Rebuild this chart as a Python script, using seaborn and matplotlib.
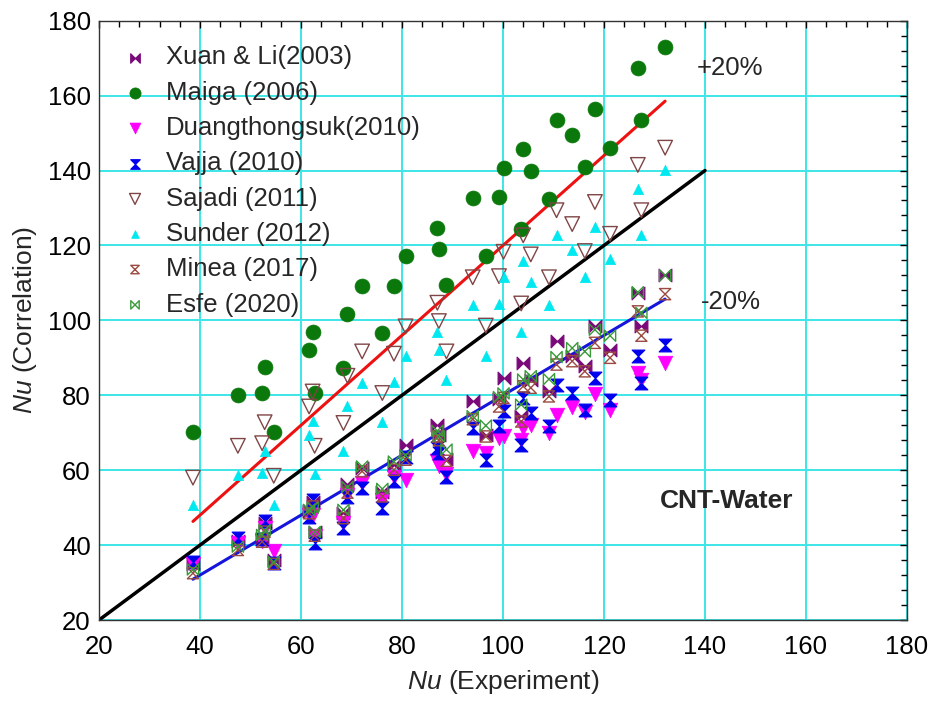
import numpy as np
import pandas as pd
import matplotlib
matplotlib.use("Agg")
import matplotlib.pyplot as plt
from matplotlib.path import Path
from matplotlib.ticker import MultipleLocator
import seaborn as sns

# ---------------- data ----------------
nu_exp = [38.6, 47.5, 52.3, 52.8, 54.6, 61.6, 62.3, 62.7, 68.4, 69.2, 72.1,
          76.1, 78.4, 80.7, 87.0, 87.3, 88.8, 94.0, 96.6, 99.2, 100.1, 103.6,
          104.0, 105.5, 109.1, 110.6, 113.7, 116.2, 118.2, 121.2, 126.7, 127.4, 132.1]

xuan = [35.0, 41.0, 41.5, 45.9, 36.0, 49.0, 51.6, 43.6, 48.5, 56.4, 60.6,
        54.3, 61.4, 66.6, 72.1, 69.5, 63.0, 78.4, 69.5, 79.0, 84.5, 74.4,
        88.6, 84.0, 81.1, 94.4, 90.5, 87.9, 98.4, 92.2, 107.2, 98.4, 112.0]
maiga = [70.3, 80.2, 80.6, 87.5, 70.3, 92.2, 96.9, 80.6, 87.3, 101.8, 109.1,
         96.5, 109.1, 117.3, 124.6, 119.1, 109.4, 132.6, 117.3, 132.9, 140.8, 124.5,
         145.7, 139.9, 132.5, 153.6, 149.5, 141.0, 156.4, 145.9, 167.3, 153.6, 172.9]
duang = [35.0, 40.5, 41.0, 44.5, 38.5, 48.1, 48.0, 42.3, 46.0, 53.5, 56.6,
         52.1, 58.3, 57.4, 62.5, 61.0, 59.0, 65.0, 64.5, 68.5, 69.0, 68.0,
         71.2, 72.1, 70.0, 74.8, 76.8, 75.5, 80.4, 76.0, 86.0, 84.0, 88.6]
vajja = [35.6, 41.8, 41.5, 46.3, 35.2, 47.5, 52.1, 40.5, 44.5, 52.9, 55.2,
         49.9, 57.0, 63.5, 66.0, 64.6, 58.3, 71.2, 62.8, 71.7, 75.7, 66.8,
         79.3, 75.3, 71.7, 82.8, 80.6, 76.1, 84.5, 78.8, 90.4, 83.3, 93.5]
sajadi = [58.0, 66.5, 67.2, 72.8, 58.5, 77.0, 81.0, 66.5, 72.6, 85.2, 91.7,
          80.6, 91.1, 98.4, 104.7, 99.8, 91.7, 111.5, 98.6, 111.8, 118.3, 104.5,
          122.7, 117.6, 111.5, 129.4, 125.7, 118.5, 131.6, 123.1, 141.5, 129.4, 146.1]
sunder = [50.7, 58.8, 59.2, 65.0, 50.7, 69.5, 73.0, 59.0, 65.0, 77.2, 83.3,
          72.8, 83.5, 90.4, 96.9, 92.2, 84.2, 104.2, 90.6, 104.5, 111.5, 96.8,
          115.8, 110.2, 104.0, 122.7, 118.9, 111.6, 125.0, 116.3, 135.2, 122.7, 140.1]
minea = [32.5, 38.7, 40.9, 43.6, 35.0, 48.5, 50.3, 42.5, 47.2, 54.0, 59.7,
         53.0, 60.1, 62.8, 69.0, 68.0, 62.5, 73.6, 69.0, 77.0, 79.3, 73.0,
         82.4, 82.0, 79.7, 88.2, 89.1, 86.4, 94.0, 90.0, 102.4, 95.9, 107.0]
esfe = [33.5, 39.6, 42.7, 44.0, 35.5, 49.4, 50.0, 43.5, 49.4, 55.5, 61.0,
        55.0, 62.3, 64.0, 70.5, 69.0, 65.5, 74.4, 71.9, 79.5, 80.5, 77.5,
        84.2, 85.1, 84.3, 90.2, 92.6, 91.7, 97.5, 95.9, 107.5, 102.0, 112.0]

labels = ["Xuan & Li(2003)", "Maiga (2006)", "Duangthongsuk(2010)", "Vajja (2010)",
          "Sajadi (2011)", "Sunder (2012)", "Minea (2017)", "Esfe (2020)"]
series = [xuan, maiga, duang, vajja, sajadi, sunder, minea, esfe]

ideal_x = [20, 140]
band_x = [38.6, 132.1]
band_factors = [1.2, 0.8]

# ---------------- style ----------------
sns.set_theme(style="white")
plt.rcParams["font.family"] = ["Liberation Sans", "DejaVu Sans"]
plt.rcParams["mathtext.fontset"] = "custom"
plt.rcParams["mathtext.it"] = "Liberation Sans:italic"
plt.rcParams["mathtext.rm"] = "Liberation Sans"

FS = 18.5

codes = [Path.MOVETO, Path.LINETO, Path.LINETO, Path.LINETO, Path.CLOSEPOLY]
bowtie = Path([(-1, 1), (-1, -1), (1, 1), (1, -1), (-1, 1)], codes)
hourglass = Path([(-1, 1), (1, 1), (-1, -1), (1, -1), (-1, 1)], codes)

styles = [
    dict(marker=bowtie, s=85, color="#7a0a7a", edgecolor="#7a0a7a", linewidth=0.8),
    dict(marker="o", s=115, color="#0a780a", edgecolor="#0a780a", linewidth=0.5),
    dict(marker="v", s=110, color="#ff00ff", edgecolor="#ff00ff", linewidth=0.5),
    dict(marker=hourglass, s=85, color="#0000ee", edgecolor="#0000ee", linewidth=0.8),
    dict(marker="v", s=110, facecolor="none", edgecolor="#804545", linewidth=1.0),
    dict(marker="^", s=55, color="#00e8f0", edgecolor="#00e8f0", linewidth=0.5),
    dict(marker=hourglass, s=65, facecolor="none", edgecolor="#9a4a40", linewidth=1.0),
    dict(marker=bowtie, s=65, facecolor="none", edgecolor="#3a9a3a", linewidth=1.0),
]

fig = plt.figure(figsize=(9.36, 7.02), dpi=100)
ax = fig.add_axes([0.1058, 0.1168, 0.8632, 0.8537])

for lab, vals, st in zip(labels, series, styles):
    df = pd.DataFrame({"exp": nu_exp, "corr": vals})
    sns.scatterplot(data=df, x="exp", y="corr", ax=ax, label=lab, zorder=3, **st)

# reference lines
ix = np.array(ideal_x, dtype=float)
sns.lineplot(x=ix, y=ix, ax=ax, color="black", lw=2.5, zorder=2, legend=False)
bx = np.array(band_x, dtype=float)
sns.lineplot(x=bx, y=bx * band_factors[0], ax=ax, color="#ee1111", lw=2.2, zorder=2, legend=False)
sns.lineplot(x=bx, y=bx * band_factors[1], ax=ax, color="#1515dd", lw=2.2, zorder=2, legend=False)

ax.set_xlim(20, 180)
ax.set_ylim(20, 180)
ax.xaxis.set_major_locator(MultipleLocator(20))
ax.yaxis.set_major_locator(MultipleLocator(20))
ax.xaxis.set_minor_locator(MultipleLocator(4))
ax.yaxis.set_minor_locator(MultipleLocator(4))
ax.tick_params(which="both", direction="in", top=True, right=True, colors="black",
               labelsize=FS, width=1)
ax.tick_params(which="major", length=5)
ax.tick_params(axis="x", which="major", pad=11)
ax.tick_params(axis="y", which="major", pad=6)
ax.tick_params(which="minor", length=4)
ax.grid(True, which="major", color="#3ee6e6", lw=1.4)
ax.set_axisbelow(True)
for sp in ax.spines.values():
    sp.set_color("#333333")
    sp.set_linewidth(1.0)

ax.set_xlabel(r"$\it{Nu}$ (Experiment)", fontsize=FS + 0.5, labelpad=6)
ax.set_ylabel(r"$\it{Nu}$ (Correlation)", fontsize=FS + 0.5, labelpad=6)

ax.text(138.4, 167.5, "+20%", fontsize=FS, va="center", ha="left")
ax.text(139.2, 104.8, "-20%", fontsize=FS, va="center", ha="left")
ax.text(131.1, 51.8, "CNT-Water", fontsize=19, fontweight="bold", va="center", ha="left")

leg = ax.legend(loc="upper left", bbox_to_anchor=(0.0, 0.993), frameon=False,
                fontsize=FS, markerscale=0.75, labelspacing=0.44,
                handlelength=1.2, handletextpad=0.6, borderpad=0.3)

fig.savefig("out.png", dpi=100)
